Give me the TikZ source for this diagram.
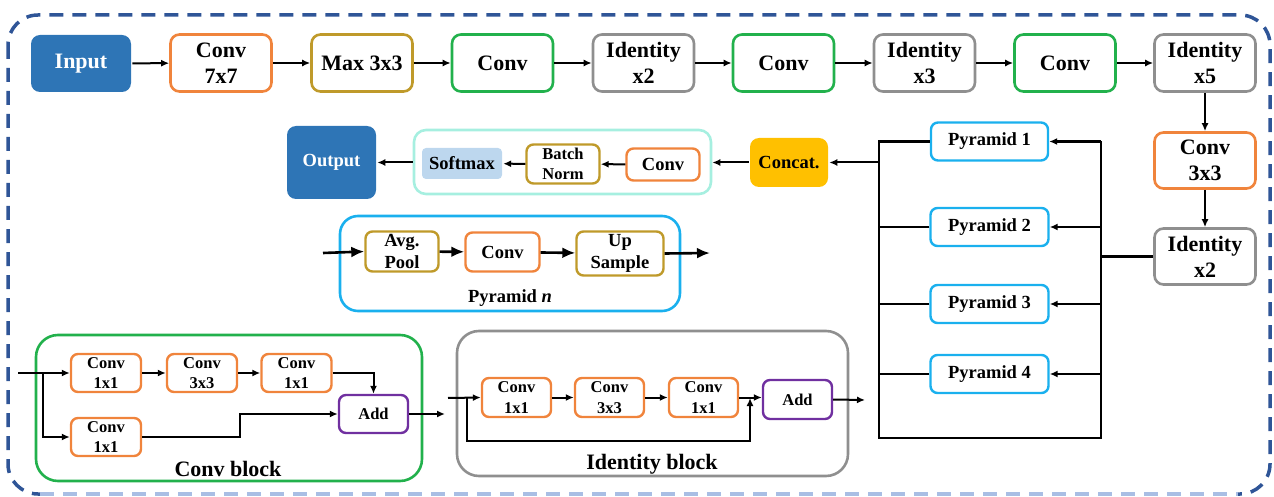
\documentclass[tikz,border=0pt]{standalone}
\usepackage{fontspec}
\setmainfont{Liberation Serif}
\usepackage{xcolor}
\usepackage{tikz}
\usetikzlibrary{positioning,arrows.meta}

\definecolor{inblue}{HTML}{2E75B6}
\definecolor{dashblue}{HTML}{2F5597}
\definecolor{dashlight}{HTML}{A9BEE4}
\definecolor{convorange}{HTML}{F0843C}
\definecolor{goldc}{HTML}{BF9A2A}
\definecolor{greenc}{HTML}{22B14C}
\definecolor{grayc}{HTML}{8F8F8F}
\definecolor{purplec}{HTML}{7030A0}
\definecolor{skyblue}{HTML}{1AB0EE}
\definecolor{tealframe}{HTML}{A6EFE0}
\definecolor{softblue}{HTML}{BDD7EE}
\definecolor{concatgold}{HTML}{FFC000}

\begin{document}
\begin{tikzpicture}[x=1pt,y=-1pt]
    \tikzstyle{big_box} = [draw, rounded corners=9pt, line width=2.6pt, fill=white, align=center, inner sep=0pt, minimum width=101pt, minimum height=57pt, font=\bfseries\fontsize{22}{26}\selectfont]
    \tikzstyle{small_box} = [draw, rounded corners=7pt, line width=2.4pt, fill=white, align=center, inner sep=0pt, minimum width=70pt, minimum height=38pt, font=\bfseries\fontsize{16.5}{20.5}\selectfont]
    \tikzstyle{mid_box} = [small_box, font=\bfseries\fontsize{18.5}{21.5}\selectfont]
    \tikzstyle{frame_style} = [draw, rounded corners=22pt, line width=2.6pt, inner sep=0pt]
    \tikzstyle{edge_style} = [draw=black, line width=2pt, -{Latex[length=8pt,width=7pt]}]
    \tikzstyle{line_style} = [draw=black, line width=2.4pt]
    \tikzstyle{big_arrow} = [draw=black, line width=2.6pt, -{Latex[length=13pt,width=11pt]}]
    \useasboundingbox (0,0) rectangle (1274,497);

    % outer dashed border
    \draw[dashblue, line width=3.5pt, dash pattern=on 14pt off 9pt, rounded corners=30pt] (8,15) rectangle (1270,494);
    \draw[white, line width=5pt] (40,494) -- (1238,494);
    \draw[dashlight, line width=3.5pt, dash pattern=on 14pt off 9pt] (40,494) -- (1238,494);

    % backbone
    \node[big_box, draw=none, fill=inblue, text=white, minimum width=100pt] (input) at (81,63.5) {Input};
    \node[big_box, draw=convorange] (conv7) at (221,63) {Conv\\7x7};
    \node[big_box, draw=goldc] (max3) at (362,63) {Max 3x3};
    \node[big_box, draw=greenc] (conv_a) at (502.5,63) {Conv};
    \node[big_box, draw=grayc] (id_a) at (643.5,63) {Identity\\x2};
    \node[big_box, draw=greenc] (conv_b) at (783.5,63) {Conv};
    \node[big_box, draw=grayc] (id_b) at (924.5,63) {Identity\\x3};
    \node[big_box, draw=greenc] (conv_c) at (1065,63) {Conv};
    \node[big_box, draw=grayc] (id_c) at (1205,63) {Identity\\x5};
    \node[big_box, draw=convorange, minimum height=56pt] (conv33) at (1205,160.5) {Conv\\3x3};
    \node[big_box, draw=grayc, minimum height=56pt] (id_d) at (1205,256.5) {Identity\\x2};
    \draw[edge_style] (input) edge (conv7);
    \draw[edge_style] (conv7) edge (max3);
    \draw[edge_style] (max3) edge (conv_a);
    \draw[edge_style] (conv_a) edge (id_a);
    \draw[edge_style] (id_a) edge (conv_b);
    \draw[edge_style] (conv_b) edge (id_b);
    \draw[edge_style] (id_b) edge (conv_c);
    \draw[edge_style] (conv_c) edge (id_c);
    \draw[edge_style] (id_c) edge (conv33);
    \draw[edge_style] (conv33) edge (id_d);

    % pyramid pooling
    \node[mid_box, draw=skyblue, minimum width=117pt] (pyr1) at (989.5,141.5) {Pyramid 1};
    \node[mid_box, draw=skyblue, minimum width=118pt] (pyr2) at (989.5,227) {Pyramid 2};
    \node[mid_box, draw=skyblue, minimum width=118pt] (pyr3) at (989.5,304) {Pyramid 3};
    \node[mid_box, draw=skyblue, minimum width=118pt] (pyr4) at (989.5,374) {Pyramid 4};
    \coordinate (pp_tl) at (879,141.5);
    \coordinate (pp_bl) at (879,438);
    \coordinate (pp_br) at (1101,438);
    \coordinate (pp_tr) at (1101,141.5);
    \coordinate (cat_in) at (879,162.5);
    \draw[line_style] (pyr1.west) -- (pp_tl) -- (pp_bl) -- (pp_br) -- (pp_tr);
    \draw[line_style] (pyr2.west) -- (pyr2.west -| pp_tl);
    \draw[line_style] (pyr3.west) -- (pyr3.west -| pp_tl);
    \draw[line_style] (pyr4.west) -- (pyr4.west -| pp_tl);
    \draw[edge_style, line width=2.4pt] (pp_tr) -- (pyr1.east);
    \draw[edge_style, line width=2.4pt] (pyr2.east -| pp_tr) -- (pyr2.east);
    \draw[edge_style, line width=2.4pt] (pyr3.east -| pp_tr) -- (pyr3.east);
    \draw[edge_style, line width=2.4pt] (pyr4.east -| pp_tr) -- (pyr4.east);
    \draw[line_style, line width=3pt] (id_d.west) -- (id_d.west -| pp_tr);

    % head
    \node[big_box, draw=none, fill=concatgold, minimum width=78pt, minimum height=49pt, font=\bfseries\fontsize{18.5}{21.5}\selectfont] (concat) at (789,162.5) {Concat.};
    \node[frame_style, draw=tealframe, rounded corners=12pt, minimum width=297pt, minimum height=64pt] (head) at (562.5,162) {};
    \node[mid_box, draw=none, fill=softblue, rounded corners=4pt, minimum width=80pt, minimum height=31pt] (softmax) at (462,163.5) {Softmax};
    \node[small_box, draw=goldc, minimum width=73pt, minimum height=39pt] (bnorm) at (563,164) {Batch\\Norm};
    \node[mid_box, draw=convorange, minimum width=73pt, minimum height=32pt] (conv_h) at (663,164.5) {Conv};
    \node[big_box, draw=none, fill=inblue, text=white, minimum width=89pt, minimum height=73pt, font=\bfseries\fontsize{18.5}{21.5}\selectfont] (output) at (331.5,162.5) {Output};
    \draw[edge_style] (cat_in) -- (concat.east);
    \draw[edge_style] (concat.west) -- (head.east |- concat.west);
    \draw[edge_style] (conv_h) edge (bnorm);
    \draw[edge_style] (bnorm) edge (softmax);
    \draw[edge_style] (head.west |- output.east) -- (output.east);

    % pyramid n
    \node[frame_style, draw=skyblue, rounded corners=18pt, minimum width=340pt, minimum height=95pt] (pyr_frame) at (510,263.5) {};
    \node[mid_box, draw=goldc, minimum width=73pt, minimum height=40pt] (avgpool) at (402,251.5) {Avg.\\Pool};
    \node[mid_box, draw=convorange, minimum width=74pt, minimum height=39pt] (conv_p) at (502.5,252) {Conv};
    \node[mid_box, draw=goldc, minimum width=87pt, minimum height=44pt] (upsample) at (620,253.5) {Up\\Sample};
    \node[font=\bfseries\fontsize{18.5}{21.5}\selectfont] (pyr_label) at (510,298) {Pyramid \textit{n}};
    \coordinate (pyr_in) at (323,253);
    \coordinate (pyr_out) at (710,253);
    \draw[big_arrow] (pyr_in) -- (avgpool.west);
    \draw[big_arrow] (avgpool) edge (conv_p);
    \draw[big_arrow] (conv_p) edge (upsample);
    \draw[big_arrow] (upsample.east) -- (pyr_out);

    % conv block
    \node[frame_style, draw=greenc, minimum width=386pt, minimum height=146pt] (cb_frame) at (229,408) {};
    \node[small_box, draw=convorange] (cb1) at (106,373) {Conv\\1x1};
    \node[small_box, draw=convorange] (cb2) at (202,373) {Conv\\3x3};
    \node[small_box, draw=convorange] (cb3) at (296.5,373) {Conv\\1x1};
    \node[small_box, draw=convorange] (cb4) at (106,437) {Conv\\1x1};
    \node[small_box, draw=purplec, minimum width=69pt] (cb_add) at (373.5,414) {Add};
    \node[font=\bfseries\fontsize{22}{26}\selectfont] (cb_label) at (228,469) {Conv block};
    \coordinate (cb_in) at (18,373);
    \coordinate (cb_split) at (43,373);
    \coordinate (cb_out) at (445,414);
    \draw[edge_style] (cb_in) -- (cb1.west);
    \draw[edge_style] (cb_split) |- (cb4.west);
    \draw[edge_style] (cb1) edge (cb2);
    \draw[edge_style] (cb2) edge (cb3);
    \draw[edge_style] (cb3.east) -| (cb_add.north);
    \draw[edge_style] (cb4.east) -- ++(98,0) |- (cb_add.west);
    \draw[edge_style] (cb_add.east) -- (cb_out);

    % identity block
    \node[frame_style, draw=grayc, minimum width=391pt, minimum height=145pt] (ib_frame) at (652.5,403.5) {};
    \node[small_box, draw=convorange, minimum width=69pt, minimum height=39pt] (ib1) at (516.5,397.5) {Conv\\1x1};
    \node[small_box, draw=convorange, minimum width=69pt, minimum height=39pt] (ib2) at (609.5,397.5) {Conv\\3x3};
    \node[small_box, draw=convorange, minimum width=69pt, minimum height=39pt] (ib3) at (703.5,397.5) {Conv\\1x1};
    \node[small_box, draw=purplec, minimum width=69pt, minimum height=39pt] (ib_add) at (797.5,399.5) {Add};
    \node[font=\bfseries\fontsize{22}{26}\selectfont] (ib_label) at (652,464) {Identity block};
    \coordinate (ib_in) at (448,398);
    \coordinate (ib_split) at (467,398);
    \coordinate (ib_join) at (750,398);
    \coordinate (ib_out) at (865,400);
    \draw[edge_style] (ib_in) -- (ib1.west);
    \draw[edge_style] (ib1) edge (ib2);
    \draw[edge_style] (ib2) edge (ib3);
    \draw[edge_style] (ib3.east) -- (ib_add.west |- ib3.east);
    \draw[edge_style] (ib_split) -- ++(0,43) -| (ib_join);
    \draw[edge_style] (ib_add.east) -- (ib_out);
\end{tikzpicture}
\end{document}
